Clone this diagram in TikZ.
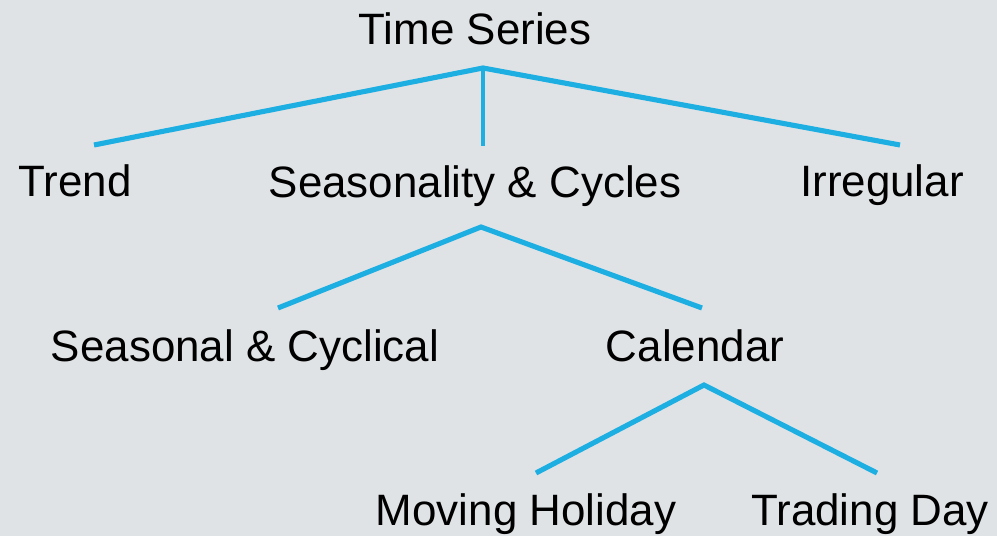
\documentclass[tikz,border=0pt]{standalone}
\usepackage{fontspec}
\setmainfont{Liberation Sans}
\usepackage{xcolor}
\usepackage{tikz}
\definecolor{bggray}{RGB}{224,227,230}
\definecolor{treeblue}{RGB}{29,174,226}

\begin{document}
\begin{tikzpicture}[
  x=0.02cm, y=-0.02cm,
  lvl/.style={anchor=base, inner sep=0pt, text=black,
              font=\fontsize{25}{30}\selectfont},
  branch/.style={draw=treeblue, line width=2.9pt, line cap=butt}
]

% Background
\fill[bggray] (0,0) rectangle (997,536);
\useasboundingbox (0,0) rectangle (997,536);

% Level 0
\node[lvl] (ts)    at (475, 45)  {Time Series};

% Level 1
\node[lvl] (trend) at ( 75, 197) {Trend};
\node[lvl] (sc)    at (475, 198) {Seasonality \& Cycles};
\node[lvl] (irr)   at (882, 197) {Irregular};

% Level 2
\node[lvl] (seas)  at (245, 362) {Seasonal \& Cyclical};
\node[lvl] (cal)   at (695, 362) {Calendar};

% Level 3
\node[lvl] (mh)    at (526, 525) {Moving Holiday};
\node[lvl] (td)    at (870, 525) {Trading Day};

% Branch points
\coordinate (ts-j)    at (483,  68);
\coordinate (trend-t) at ( 94, 145);
\coordinate (sc-t)    at (483, 146);
\coordinate (irr-t)   at (900, 145);
\coordinate (sc-j)    at (481, 227);
\coordinate (seas-t)  at (278, 308);
\coordinate (cal-t)   at (702, 308);
\coordinate (cal-j)   at (704, 385);
\coordinate (mh-t)    at (536, 473);
\coordinate (td-t)    at (877, 473);

% Time Series -> components
\draw[branch] (trend-t) -- (ts-j) -- (irr-t);
\draw[branch, line width=2.5pt] (ts-j) -- (sc-t);

% Seasonality & Cycles -> children
\draw[branch] (seas-t) -- (sc-j) -- (cal-t);

% Calendar -> children
\draw[branch] (mh-t) -- (cal-j) -- (td-t);

\end{tikzpicture}
\end{document}
